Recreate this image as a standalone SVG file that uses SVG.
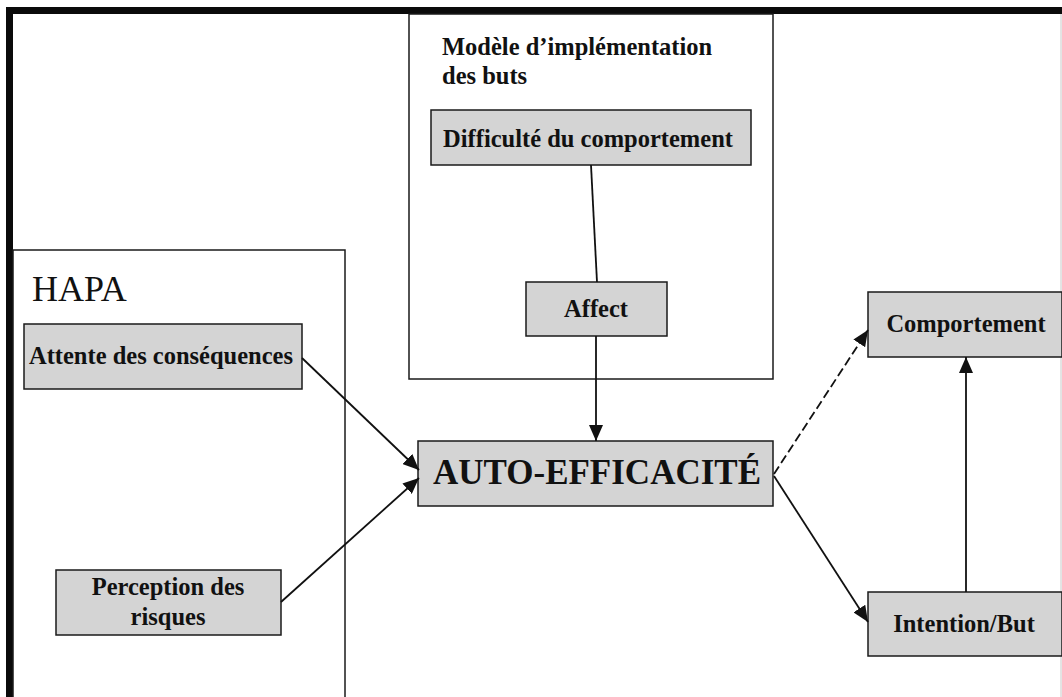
<svg xmlns="http://www.w3.org/2000/svg" width="1062" height="697" viewBox="0 0 1062 697">
<style>
.box{fill:#d4d4d4;stroke:#1a1a1a;stroke-width:1.5}
.grp{fill:none;stroke:#1a1a1a;stroke-width:1.5}
.t{font-family:"Liberation Serif","Times New Roman",serif;font-weight:bold;font-size:24.5px;fill:#111;text-anchor:middle}
.c{stroke:#111;stroke-width:1.8;fill:none}
</style>
<defs>
<marker id="ah" markerUnits="userSpaceOnUse" markerWidth="18" markerHeight="14" refX="16" refY="7" orient="auto">
<path d="M0,0 L16,7 L0,14 Z" fill="#111"/>
</marker>
</defs>
<rect width="1062" height="697" fill="#fff"/>
<g id="frame">
<line x1="6" y1="10.5" x2="1062" y2="10.5" stroke="#0a0a0a" stroke-width="7"/>
<line x1="9.5" y1="7" x2="9.5" y2="697" stroke="#0a0a0a" stroke-width="7"/>
<line x1="1061" y1="14" x2="1061" y2="697" stroke="#c8c8c8" stroke-width="1"/>
</g>
<g id="hapa">
<rect class="grp" x="13" y="250" width="332" height="460"/>
<text x="32" y="301" style="font-family:'Liberation Serif','Times New Roman',serif;font-size:36px;fill:#111">HAPA</text>
</g>
<g id="modele">
<rect class="grp" x="409" y="14" width="364" height="365"/>
<text x="442" y="55" class="t" style="text-anchor:start">Modèle d’implémentation</text>
<text x="442" y="84" class="t" style="text-anchor:start">des buts</text>
</g>
<g id="difficulte">
<rect class="box" x="431" y="110" width="320" height="55"/>
<text class="t" x="588" y="147">Difficulté du comportement</text>
</g>
<g id="affect">
<rect class="box" x="526" y="282" width="141" height="54"/>
<text class="t" x="596" y="317">Affect</text>
</g>
<g id="attente">
<rect class="box" x="24" y="324" width="278" height="65"/>
<text class="t" x="161" y="364">Attente des conséquences</text>
</g>
<g id="perception">
<rect class="box" x="56" y="570" width="225" height="65"/>
<text class="t" x="168" y="595">Perception des</text>
<text class="t" x="168" y="625">risques</text>
</g>
<g id="auto">
<rect class="box" x="418" y="441" width="355" height="65"/>
<text class="t" x="597" y="484" style="font-size:35px">AUTO-EFFICACITÉ</text>
</g>
<g id="comportement">
<rect class="box" x="868" y="292" width="194" height="65"/>
<text class="t" x="966" y="332">Comportement</text>
</g>
<g id="intention">
<rect class="box" x="868" y="592" width="194" height="64"/>
<text class="t" x="964" y="632">Intention/But</text>
</g>
<g id="connectors">
<line class="c" x1="591" y1="165" x2="597" y2="282"/>
<line class="c" x1="596" y1="336" x2="596" y2="441" marker-end="url(#ah)"/>
<line class="c" x1="302" y1="358" x2="419" y2="470" stroke-width="2.5" marker-end="url(#ah)"/>
<line class="c" x1="281" y1="602" x2="419" y2="478" stroke-width="2.2" marker-end="url(#ah)"/>
<line class="c" x1="774" y1="474" x2="868" y2="330" stroke-width="2.2" stroke-dasharray="9,4" marker-end="url(#ah)"/>
<line class="c" x1="774" y1="476" x2="868" y2="622" stroke-width="2" marker-end="url(#ah)"/>
<line class="c" x1="966" y1="592" x2="966" y2="357" marker-end="url(#ah)"/>
</g>
</svg>
